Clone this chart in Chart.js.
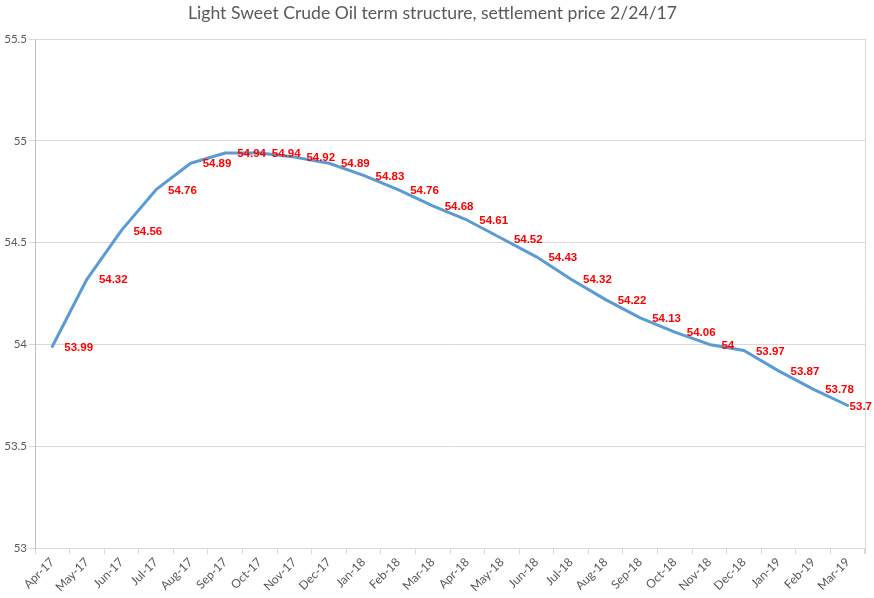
<!DOCTYPE html>
<html>
<head>
<meta charset="utf-8">
<script src="https://cdn.jsdelivr.net/npm/chart.js@4.4.1/dist/chart.umd.min.js"></script>
<style>
html,body{margin:0;padding:0;background:#fff;}
#wrap{width:874px;height:598px;}
</style>
</head>
<body>
<div id="wrap"><canvas id="c" width="874" height="598"></canvas></div>
<script>
const months = ["Apr-17","May-17","Jun-17","Jul-17","Aug-17","Sep-17","Oct-17","Nov-17","Dec-17","Jan-18","Feb-18","Mar-18","Apr-18","May-18","Jun-18","Jul-18","Aug-18","Sep-18","Oct-18","Nov-18","Dec-18","Jan-19","Feb-19","Mar-19"];
const prices = [53.99,54.32,54.56,54.76,54.89,54.94,54.94,54.92,54.89,54.83,54.76,54.68,54.61,54.52,54.43,54.32,54.22,54.13,54.06,54,53.97,53.87,53.78,53.7];
const yMin = 53, yMax = 55.5, yStep = 0.5;
const titleText = "Light Sweet Crude Oil term structure, settlement price 2/24/17";

const labelPlugin = {
  id: 'valueLabels',
  afterDatasetsDraw(chart) {
    const ctx = chart.ctx;
    const meta = chart.getDatasetMeta(0);
    ctx.save();
    ctx.font = 'bold 11.5px "Liberation Sans", Arial, sans-serif';
    ctx.fillStyle = '#FF0000';
    ctx.textBaseline = 'middle';
    ctx.textAlign = 'left';
    meta.data.forEach((pt, i) => {
      const txt = String(prices[i]);
      const w = ctx.measureText(txt).width;
      let x = pt.x + 12;
      if (x + w > chart.width - 2) x = chart.width - 2 - w;
      ctx.fillText(txt, x, pt.y + 1);
    });
    ctx.restore();
  }
};

const borderPlugin = {
  id: 'rightBorder',
  beforeDatasetsDraw(chart) {
    const a = chart.chartArea, ctx = chart.ctx;
    ctx.save();
    ctx.strokeStyle = '#D9D9D9';
    ctx.lineWidth = 1;
    ctx.beginPath();
    ctx.moveTo(Math.round(a.right) + 0.5, a.top);
    ctx.lineTo(Math.round(a.right) + 0.5, a.bottom + 6);
    ctx.stroke();
    ctx.restore();
  }
};

new Chart(document.getElementById('c'), {
  type: 'line',
  data: {
    labels: months,
    datasets: [{
      data: prices,
      borderColor: '#5B9BD5',
      borderWidth: 3,
      pointRadius: 0,
      tension: 0,
      borderCapStyle: 'round',
      borderJoinStyle: 'round',
      fill: false
    }]
  },
  options: {
    responsive: false,
    animation: false,
    layout: { padding: { left: 0, right: 9, top: 0, bottom: 0 } },
    plugins: {
      legend: { display: false },
      tooltip: { enabled: false },
      title: {
        display: true,
        text: titleText,
        color: '#595959',
        font: { family: 'Lato, "Open Sans", sans-serif', size: 17.6, weight: 'normal' },
        padding: { top: 2.5, bottom: 15.4 }
      }
    },
    scales: {
      x: {
        offset: true,
        grid: { offset: true, drawOnChartArea: false, drawTicks: true, tickLength: 6, color: '#D9D9D9' },
        border: { color: '#D9D9D9' },
        ticks: {
          minRotation: 45, maxRotation: 45, autoSkip: false,
          color: '#595959', padding: 1,
          font: { family: 'Lato, "Open Sans", sans-serif', size: 12 }
        },
        afterFit(scale) { scale.height = 50; }
      },
      y: {
        min: yMin, max: yMax,
        ticks: {
          stepSize: yStep,
          color: '#595959', padding: 2,
          font: { family: 'Lato, "Open Sans", sans-serif', size: 11.5 },
          callback: (v) => String(v)
        },
        grid: { color: '#D9D9D9', tickLength: 6 },
        border: { color: '#BFBFBF' },
        afterFit(scale) { scale.width = 35; }
      }
    }
  },
  plugins: [labelPlugin, borderPlugin]
});
</script>
</body>
</html>
